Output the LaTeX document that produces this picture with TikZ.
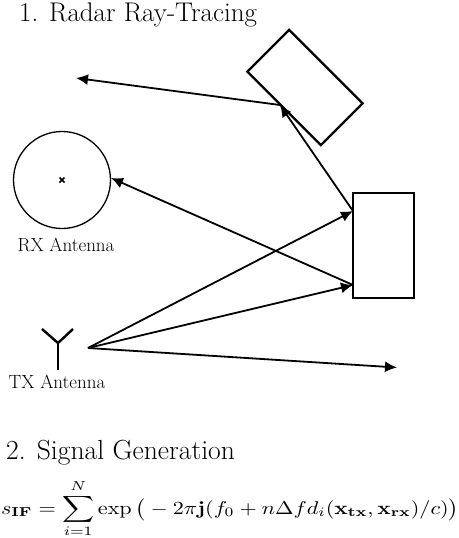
\documentclass[tikz,border=0pt]{standalone}
\usepackage{amsmath}
\usetikzlibrary{arrows.meta, positioning}
\tikzset{
  cajaPared/.style={draw=black, line width=2.6pt, minimum width=61pt, minimum height=105pt, inner sep=0pt},
  cajaGirada/.style={draw=black, line width=2.4pt, minimum width=104pt, minimum height=59pt, inner sep=0pt, rotate=-45},
  antenaRX/.style={circle, draw=black, line width=1.3pt, minimum size=97pt, inner sep=0pt},
  marcaRX/.style={line width=1.5pt, black},
  etiquetaAntena/.style={font=\fontsize{19}{22}\selectfont, inner sep=0pt},
  titulo/.style={font=\fontsize{27}{32}\selectfont, anchor=base west, inner sep=0pt},
  rayo/.style={-{Latex[length=12pt, width=11pt]}, line width=1.8pt, black},
  brazo/.style={line width=2.4pt, black},
}
\begin{document}
\begin{tikzpicture}[x=1pt, y=-1pt]
    \useasboundingbox (0,0) rectangle (458,538);
    \node[titulo] (t1) at (19,21) {1. Radar Ray-Tracing};
    \node[titulo, font=\fontsize{27.6}{32}\selectfont] (t2) at (6,459) {2. Signal Generation};

    \node[cajaGirada] (muro) at (305,87.5) {};
    \node[cajaPared] (coche) at (383.5,245.5) {};
    \node[antenaRX] (rx) at (62,180) {};
    \draw[marcaRX] ([shift={(-2.5,-2.5)}]rx.center) -- ([shift={(2.5,2.5)}]rx.center);
    \draw[marcaRX] ([shift={(-2.5,2.5)}]rx.center) -- ([shift={(2.5,-2.5)}]rx.center);
    \node[etiquetaAntena] (rxl) at (66,245) {RX Antenna};
    \node[etiquetaAntena] (txl) at (57,382) {TX Antenna};

    % antena de transmision
    \coordinate (txc) at (58,343);
    \coordinate (txi) at (42,329);
    \coordinate (txd) at (73,329);
    \coordinate (txb) at (58,370);
    \draw[brazo] (txi) -- (txc) -- (txd);
    \draw[brazo] (txc) -- (txb);

    % rayos
    \coordinate (tx) at (88,348);
    \coordinate (p1) at (353,211);
    \coordinate (p2) at (353,285);
    \coordinate (p3) at (280,105);
    \coordinate (fin1) at (397,367.5);
    \coordinate (fin2) at (76,78);
    \coordinate (rxe) at (111,178);
    \draw[rayo] (tx) -- (p1);
    \draw[rayo] (tx) -- (p2);
    \draw[rayo] (tx) -- (fin1);
    \draw[rayo] (p2) -- (rxe);
    \draw[rayo] (p1) -- (p3);
    \draw[rayo] (p3) -- (fin2);

    \node[inner sep=0pt, anchor=center] (formula) at (230,509)
      {\scalebox{2.22}[1.85]{$\displaystyle s_{\mathbf{IF}} = \sum_{i=1}^{N} \exp\big(-2\pi\mathbf{j}(f_0 + n\Delta f d_i(\mathbf{x}_{\mathbf{tx}},\mathbf{x}_{\mathbf{rx}})/c)\big)$}};
  \end{tikzpicture}
\end{document}
